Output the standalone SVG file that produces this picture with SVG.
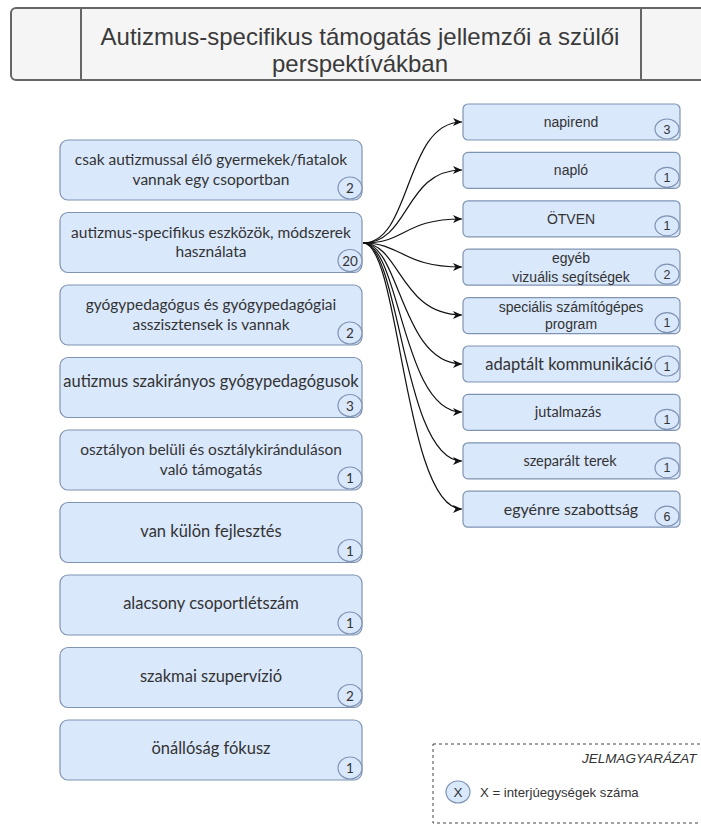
<svg xmlns="http://www.w3.org/2000/svg" width="701" height="828" viewBox="0 0 701 828">
  <defs>
    <style>
      .title { font-family: "Liberation Sans", Arial, sans-serif; font-size: 24px; fill: #3a3a3a; text-anchor: middle; }
      .lnode { fill: #dae8fc; stroke: #7f93b2; stroke-width: 1.2; }
      .ltxt { font-family: Lato, "Open Sans", sans-serif; font-size: 15.5px; fill: #333; text-anchor: middle; }
      .ltxt1 { font-family: Lato, "Open Sans", sans-serif; font-size: 16.5px; fill: #333; text-anchor: middle; }
      .rtxt { font-family: "Liberation Sans", Arial, sans-serif; font-size: 14px; fill: #333; text-anchor: middle; }
      .rtxt2 { font-family: Lato, "Open Sans", sans-serif; font-size: 14.5px; fill: #333; text-anchor: middle; }
      .rtxt3 { font-family: Lato, "Open Sans", sans-serif; font-size: 16.5px; fill: #333; text-anchor: middle; }
      .badge { fill: #dae8fc; stroke: #7f93b2; stroke-width: 1.2; }
      .btxt { font-family: Lato, "Open Sans", sans-serif; font-size: 13.5px; fill: #333; text-anchor: middle; }
      .brtxt { font-family: "Liberation Sans", Arial, sans-serif; font-size: 12.5px; fill: #333; text-anchor: middle; }
      .edge { fill: none; stroke: #111; stroke-width: 1.2; marker-end: url(#arr); }
      .legend { font-family: "Liberation Sans", Arial, sans-serif; font-size: 13.2px; fill: #333; }
      .legend-head { font-family: "Liberation Sans", Arial, sans-serif; font-size: 13.5px; font-style: italic; fill: #333; }
      .legend-x { font-family: "Liberation Sans", Arial, sans-serif; font-size: 13.5px; fill: #333; text-anchor: middle; }
    </style>
    <marker id="arr" markerWidth="10" markerHeight="8" refX="9" refY="4" orient="auto" markerUnits="userSpaceOnUse">
      <path d="M0,0 L9,4 L0,8 L2.5,4 Z" fill="#111"/>
    </marker>
  </defs>

  <rect width="701" height="828" fill="#ffffff"/>

  <!-- title banner -->
  <g id="title">
    <rect x="11" y="8" width="730" height="72" rx="5" fill="#f5f5f5" stroke="#666" stroke-width="2"/>
    <line x1="81" y1="8" x2="81" y2="80" stroke="#666" stroke-width="2"/>
    <line x1="641" y1="8" x2="641" y2="80" stroke="#666" stroke-width="2"/>
    <text class="title" x="360" y="45">Autizmus-specifikus támogatás jellemzői a szülői</text>
    <text class="title" x="360" y="72">perspektívákban</text>
  </g>

  <!-- connectors -->
  <g id="connectors">
    <path class="edge" d="M363,243 C412,243 404,122 462,122"/>
    <path class="edge" d="M363,243 C410,243 404,170 462,170"/>
    <path class="edge" d="M363,243 C408,243 402,219 462,219"/>
    <path class="edge" d="M363,243 C402,243 402,267 462,267"/>
    <path class="edge" d="M363,243 C400,243 400,315 462,315"/>
    <path class="edge" d="M363,243 C400,243 401,364 462,364"/>
    <path class="edge" d="M363,243 C400,243 402,412 462,412"/>
    <path class="edge" d="M363,243 C400,243 403,461 462,461"/>
    <path class="edge" d="M363,243 C400,243 404,509 462,509"/>
  </g>

  <!-- left column -->
  <g id="n1">
    <rect class="lnode" x="60" y="140" width="302" height="60" rx="8"/>
    <text class="ltxt" x="211" y="165">csak autizmussal élő gyermekek/fiatalok</text>
    <text class="ltxt" x="211" y="184.5">vannak egy csoportban</text>
    <ellipse class="badge" cx="350" cy="188" rx="12" ry="11"/>
    <text class="btxt" x="350" y="193">2</text>
  </g>
  <g id="n2">
    <rect class="lnode" x="60" y="212.5" width="302" height="60" rx="8"/>
    <text class="ltxt" x="211" y="237.5">autizmus-specifikus eszközök, módszerek</text>
    <text class="ltxt" x="211" y="257">használata</text>
    <ellipse class="badge" cx="350" cy="260.5" rx="12" ry="11"/>
    <text class="btxt" x="350" y="265.5">20</text>
  </g>
  <g id="n3">
    <rect class="lnode" x="60" y="285" width="302" height="60" rx="8"/>
    <text class="ltxt" x="211" y="310">gyógypedagógus és gyógypedagógiai</text>
    <text class="ltxt" x="211" y="329.5">asszisztensek is vannak</text>
    <ellipse class="badge" cx="350" cy="333" rx="12" ry="11"/>
    <text class="btxt" x="350" y="338">2</text>
  </g>
  <g id="n4">
    <rect class="lnode" x="60" y="357.5" width="302" height="60" rx="8"/>
    <text class="ltxt1" x="211" y="386.5">autizmus szakirányos gyógypedagógusok</text>
    <ellipse class="badge" cx="350" cy="405.5" rx="12" ry="11"/>
    <text class="btxt" x="350" y="410.5">3</text>
  </g>
  <g id="n5">
    <rect class="lnode" x="60" y="430" width="302" height="60" rx="8"/>
    <text class="ltxt" x="211" y="455">osztályon belüli és osztálykiránduláson</text>
    <text class="ltxt" x="211" y="474.5">való támogatás</text>
    <ellipse class="badge" cx="350" cy="478" rx="12" ry="11"/>
    <text class="btxt" x="350" y="483">1</text>
  </g>
  <g id="n6">
    <rect class="lnode" x="60" y="502.5" width="302" height="60" rx="8"/>
    <text class="ltxt1" x="211" y="536.5">van külön fejlesztés</text>
    <ellipse class="badge" cx="350" cy="550.5" rx="12" ry="11"/>
    <text class="btxt" x="350" y="555.5">1</text>
  </g>
  <g id="n7">
    <rect class="lnode" x="60" y="575" width="302" height="60" rx="8"/>
    <text class="ltxt1" x="211" y="609">alacsony csoportlétszám</text>
    <ellipse class="badge" cx="350" cy="623" rx="12" ry="11"/>
    <text class="btxt" x="350" y="628">1</text>
  </g>
  <g id="n8">
    <rect class="lnode" x="60" y="647.5" width="302" height="60" rx="8"/>
    <text class="ltxt1" x="211" y="681.5">szakmai szupervízió</text>
    <ellipse class="badge" cx="350" cy="695.5" rx="12" ry="11"/>
    <text class="btxt" x="350" y="700.5">2</text>
  </g>
  <g id="n9">
    <rect class="lnode" x="60" y="720" width="302" height="60" rx="8"/>
    <text class="ltxt1" x="211" y="754">önállóság fókusz</text>
    <ellipse class="badge" cx="350" cy="768" rx="12" ry="11"/>
    <text class="btxt" x="350" y="773">1</text>
  </g>

  <!-- right column -->
  <g id="r1">
    <rect class="lnode" x="463" y="104" width="217" height="36" rx="5"/>
    <text class="rtxt" x="571" y="126.5">napirend</text>
    <ellipse class="badge" cx="667" cy="129" rx="12" ry="10"/>
    <text class="brtxt" x="667" y="133.5">3</text>
  </g>
  <g id="r2">
    <rect class="lnode" x="463" y="152.4" width="217" height="36" rx="5"/>
    <text class="rtxt" x="571" y="175">napló</text>
    <ellipse class="badge" cx="667" cy="177.4" rx="12" ry="10"/>
    <text class="brtxt" x="667" y="181.9">1</text>
  </g>
  <g id="r3">
    <rect class="lnode" x="463" y="200.8" width="217" height="36" rx="5"/>
    <text class="rtxt" x="571" y="223.5">ÖTVEN</text>
    <ellipse class="badge" cx="667" cy="225.8" rx="12" ry="10"/>
    <text class="brtxt" x="667" y="230.3">1</text>
  </g>
  <g id="r4">
    <rect class="lnode" x="463" y="249.2" width="217" height="36" rx="5"/>
    <text class="rtxt" x="571" y="263">egyéb</text>
    <text class="rtxt" x="571" y="281.5">vizuális segítségek</text>
    <ellipse class="badge" cx="667" cy="274.2" rx="12" ry="10"/>
    <text class="brtxt" x="667" y="278.7">2</text>
  </g>
  <g id="r5">
    <rect class="lnode" x="463" y="297.6" width="217" height="36" rx="5"/>
    <text class="rtxt" x="571" y="311.5">speciális számítógépes</text>
    <text class="rtxt" x="571" y="328.5">program</text>
    <ellipse class="badge" cx="667" cy="322.6" rx="12" ry="10"/>
    <text class="brtxt" x="667" y="327.1">1</text>
  </g>
  <g id="r6">
    <rect class="lnode" x="463" y="346" width="217" height="36" rx="5"/>
    <text class="rtxt3" x="569" y="370">adaptált kommunikáció</text>
    <ellipse class="badge" cx="667" cy="366" rx="12" ry="10"/>
    <text class="brtxt" x="667" y="370.5">1</text>
  </g>
  <g id="r7">
    <rect class="lnode" x="463" y="394.4" width="217" height="36" rx="5"/>
    <text class="rtxt2" x="568" y="417.4">jutalmazás</text>
    <ellipse class="badge" cx="667" cy="419.4" rx="12" ry="10"/>
    <text class="brtxt" x="667" y="423.9">1</text>
  </g>
  <g id="r8">
    <rect class="lnode" x="463" y="442.8" width="217" height="36" rx="5"/>
    <text class="rtxt2" x="570" y="465.8">szeparált terek</text>
    <ellipse class="badge" cx="667" cy="467.8" rx="12" ry="10"/>
    <text class="brtxt" x="667" y="472.3">1</text>
  </g>
  <g id="r9">
    <rect class="lnode" x="463" y="491.2" width="217" height="36" rx="5"/>
    <text class="rtxt3" x="571" y="514.5" style="font-size:16px">egyénre szabottság</text>
    <ellipse class="badge" cx="667" cy="516.2" rx="12" ry="10"/>
    <text class="brtxt" x="667" y="520.7">6</text>
  </g>

  <!-- legend -->
  <g id="legend">
    <rect x="433" y="744" width="300" height="79" fill="none" stroke="#444" stroke-width="1" stroke-dasharray="3,3"/>
    <text class="legend-head" x="582" y="763">JELMAGYARÁZAT</text>
    <ellipse class="badge" cx="458" cy="792" rx="12" ry="11"/>
    <text class="legend-x" x="458" y="797">X</text>
    <text class="legend" x="480" y="797">X = interjúegységek száma</text>
  </g>
</svg>
